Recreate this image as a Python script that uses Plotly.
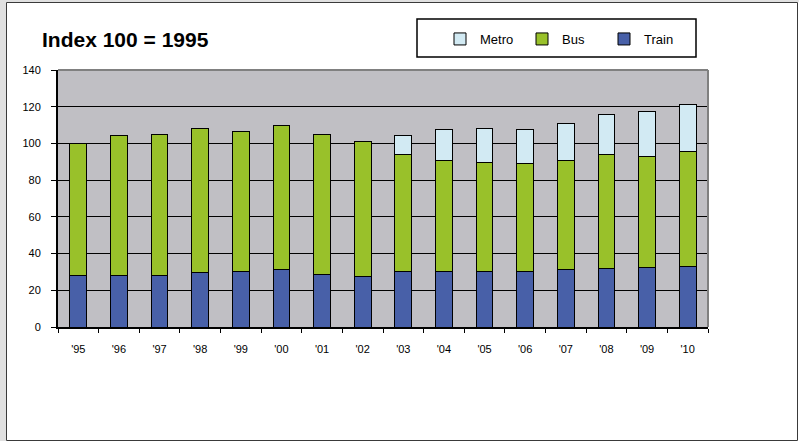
import plotly.graph_objects as go

years = ["'95", "'96", "'97", "'98", "'99", "'00", "'01", "'02",
         "'03", "'04", "'05", "'06", "'07", "'08", "'09", "'10"]
train = [28, 28.2, 28, 29.7, 30.4, 31.1, 28.8, 27.7, 30, 30.2, 30.2, 30.2, 31.3, 31.8, 32.4, 32.7]
bus = [72, 76.3, 76.7, 78.6, 76.3, 78.8, 76.2, 73.4, 64.2, 60.4, 59.5, 58.6, 59.5, 61.9, 60.7, 63.1]
metro = [None, None, None, None, None, None, None, None, 10.1, 16.8, 18.2, 18.6, 19.8, 22.1, 24.2, 25.4]

W, H = 799, 441
L, R, T, B = 58, 91, 70, 114
PW, PH = W - L - R, H - T - B


def px(x):
    return (x - L) / PW


def py(y):
    return (H - B - y) / PH


FONT = "Arial, Liberation Sans, sans-serif"
line = dict(color="black", width=1)

fig = go.Figure()
fig.add_trace(go.Bar(name="Train", x=years, y=train, marker=dict(color="#4860a8", line=line)))
fig.add_trace(go.Bar(name="Bus", x=years, y=bus, marker=dict(color="#99c12a", line=line)))
fig.add_trace(go.Bar(name="Metro", x=years, y=metro, marker=dict(color="#d2eaf3", line=line)))

shapes = [
    # outer page frame
    dict(type="rect", xref="paper", yref="paper", x0=px(0), x1=px(6), y0=py(0), y1=py(441),
         fillcolor="#e0e0e0", line=dict(width=0)),
    dict(type="rect", xref="paper", yref="paper", x0=px(0), x1=px(799), y0=py(0), y1=py(2),
         fillcolor="#e0e0e0", line=dict(width=0)),
    dict(type="rect", xref="paper", yref="paper", x0=px(6.5), x1=px(797.5), y0=py(2.5), y1=py(440.5),
         fillcolor="rgba(0,0,0,0)", line=dict(color="#3a3a3a", width=1)),
    # plot area top / right border
    dict(type="line", xref="paper", yref="paper", x0=0, x1=1, y0=1, y1=1,
         line=dict(color="#808080", width=2), layer="above"),
    dict(type="line", xref="paper", yref="paper", x0=1, x1=1, y0=0, y1=1,
         line=dict(color="#808080", width=2), layer="above"),
    # legend box
    dict(type="rect", xref="paper", yref="paper", x0=px(417), x1=px(696), y0=py(19), y1=py(57),
         fillcolor="rgba(0,0,0,0)", line=dict(color="black", width=1.5)),
]

fig.update_layout(
    width=W, height=H,
    margin=dict(l=L, r=R, t=T, b=B, pad=0),
    barmode="stack",
    bargap=0.59,
    paper_bgcolor="white",
    plot_bgcolor="#c0bfc4",
    font=dict(family=FONT, size=11, color="black"),
    title=dict(text="<b>Index 100 = 1995</b>", x=42 / W, xanchor="left", xref="container",
               y=1 - 40 / H, yanchor="middle", yref="container",
               font=dict(family=FONT, size=21, color="black")),
    legend=dict(orientation="h", traceorder="reversed", x=px(440), xanchor="left",
                y=py(39), yanchor="middle", bgcolor="rgba(0,0,0,0)", borderwidth=0,
                entrywidth=37, entrywidthmode="pixels",
                font=dict(family=FONT, size=13, color="black")),
    shapes=shapes,
    showlegend=True,
)
fig.update_xaxes(
    showline=True, linecolor="black", linewidth=2,
    ticks="outside", tickson="boundaries", ticklen=4, tickcolor="black", tickwidth=1,
    showgrid=False, tickfont=dict(size=11), ticklabelstandoff=11,
)
fig.update_yaxes(
    range=[0, 140], dtick=20, showline=True, linecolor="black", linewidth=2,
    ticks="outside", ticklen=5, tickcolor="black", tickwidth=1,
    showgrid=True, gridcolor="black", gridwidth=1.4, zeroline=False,
    tickfont=dict(size=11), ticklabelstandoff=8,
)

fig.write_html("out.html", config={"displayModeBar": False},
               post_script="document.body.style.margin='0';document.body.style.overflow='hidden';")
